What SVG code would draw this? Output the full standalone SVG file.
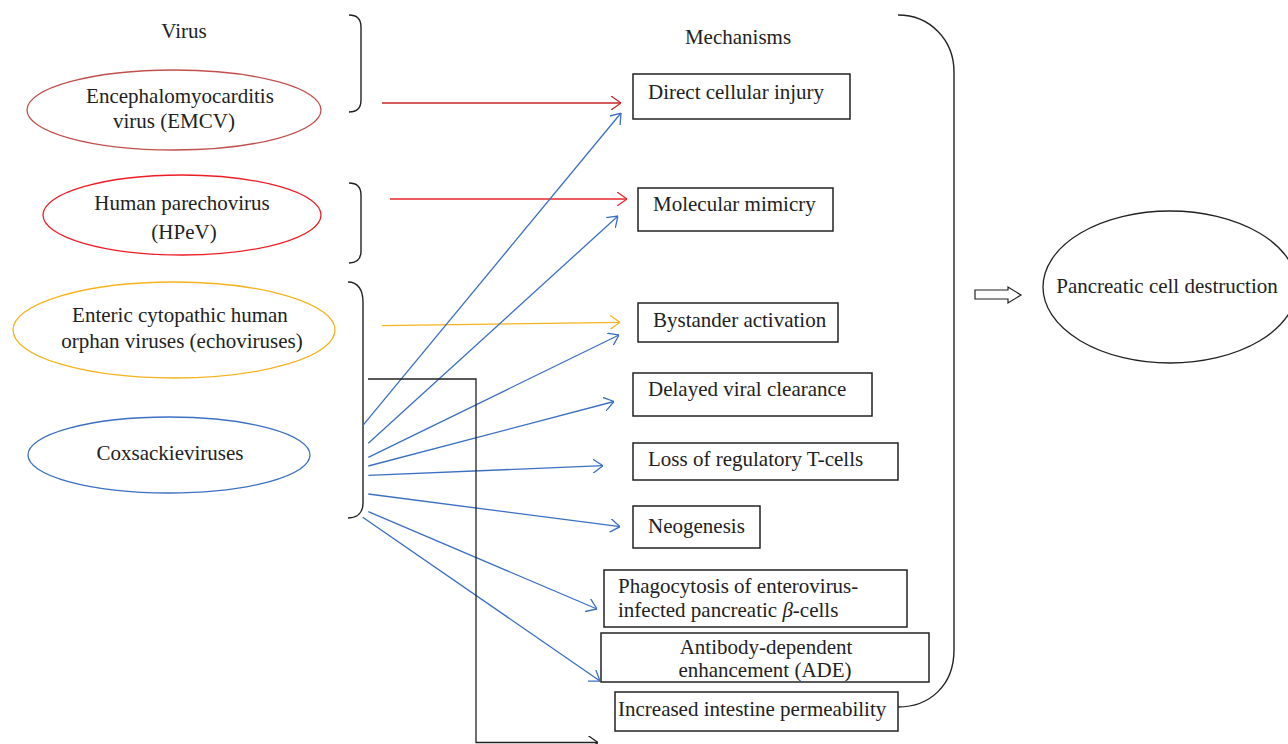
<svg xmlns="http://www.w3.org/2000/svg" width="1288" height="744" viewBox="0 0 1288 744">
<style>
text{font-family:"Liberation Serif","Times New Roman",serif;font-size:21px;fill:#222}
.box{fill:#fff;stroke:#222;stroke-width:1.5}
.brace{fill:none;stroke:#222;stroke-width:1.4}
.ell{fill:#fff;stroke-width:1.3}
.c{stroke-width:1.3;fill:none}
.mid{text-anchor:middle}
</style>
<defs>
<marker id="aBlue" markerUnits="userSpaceOnUse" viewBox="0 0 10 14" refX="10" refY="7" markerWidth="10" markerHeight="14" orient="auto"><path d="M0,0 L10,7 L0,14" fill="none" stroke="#3b6fc2" stroke-width="1.3"/></marker>
<marker id="aRed1" markerUnits="userSpaceOnUse" viewBox="0 0 10 14" refX="10" refY="7" markerWidth="10" markerHeight="14" orient="auto"><path d="M0,0 L10,7 L0,14" fill="none" stroke="#c62828" stroke-width="1.3"/></marker>
<marker id="aRed2" markerUnits="userSpaceOnUse" viewBox="0 0 10 14" refX="10" refY="7" markerWidth="10" markerHeight="14" orient="auto"><path d="M0,0 L10,7 L0,14" fill="none" stroke="#e8262b" stroke-width="1.3"/></marker>
<marker id="aOr" markerUnits="userSpaceOnUse" viewBox="0 0 10 14" refX="10" refY="7" markerWidth="10" markerHeight="14" orient="auto"><path d="M0,0 L10,7 L0,14" fill="none" stroke="#f5b31e" stroke-width="1.3"/></marker>
<marker id="aBlk" markerUnits="userSpaceOnUse" viewBox="0 0 10 14" refX="10" refY="7" markerWidth="10" markerHeight="14" orient="auto"><path d="M0,0 L10,7 L0,14" fill="none" stroke="#222" stroke-width="1.3"/></marker>
</defs>
<rect width="1288" height="744" fill="#fff"/>

<text x="184" y="38" class="mid">Virus</text>
<text x="738" y="44" class="mid">Mechanisms</text>

<g id="braces">
<path class="brace" d="M349,15 C357,15 361,19 361,27 L361,100 C361,108 357,112 349,112"/>
<path class="brace" d="M349,183 C357,183 361,187 361,195 L361,251 C361,259 357,263 349,263"/>
<path class="brace" d="M348,282 C358,282 363,290 363,302 L363,503 C363,512 358,518 348,518"/>
<path class="brace" d="M898,15 C930,15 954,40 954,72 L954,650 C954,685 930,707 898,707"/>
</g>

<g id="connectors">
<line class="c" x1="382" y1="103" x2="621" y2="103" stroke="#c62828" marker-end="url(#aRed1)"/>
<line class="c" x1="390" y1="199" x2="627" y2="199" stroke="#e8262b" marker-end="url(#aRed2)"/>
<line class="c" x1="382" y1="325.7" x2="620" y2="322.3" stroke="#f5b31e" marker-end="url(#aOr)"/>
<g stroke="#3b6fc2" class="c" marker-end="url(#aBlue)">
<line x1="362.7" y1="425.7" x2="621" y2="113"/>
<line x1="368.3" y1="443.3" x2="618" y2="216"/>
<line x1="368.3" y1="457.3" x2="619" y2="335"/>
<line x1="368.3" y1="466" x2="614" y2="401.5"/>
<line x1="368.3" y1="475.3" x2="603" y2="465.7"/>
<line x1="368.3" y1="494" x2="620" y2="526.7"/>
<line x1="368.3" y1="511.7" x2="597" y2="609"/>
<line x1="362.7" y1="517.3" x2="600" y2="681"/>
</g>
<polyline class="c" stroke="#222" points="368,379 476,379 476,742.5 598,742.5" marker-end="url(#aBlk)"/>
<polygon points="975,290 1008,290 1008,287 1021,295 1008,303 1008,299 975,299" fill="#fff" stroke="#222" stroke-width="1.2"/>
</g>

<g id="emcv">
<ellipse class="ell" cx="174" cy="110" rx="147" ry="40" stroke="#c0504d"/>
<text x="180" y="103" class="mid">Encephalomyocarditis</text>
<text x="174" y="128" class="mid">virus (EMCV)</text>
</g>
<g id="hpev">
<ellipse class="ell" cx="182" cy="215" rx="139" ry="40" stroke="#ee1c25"/>
<text x="182" y="210" class="mid">Human parechovirus</text>
<text x="184" y="239" class="mid">(HPeV)</text>
</g>
<g id="echo">
<ellipse class="ell" cx="174" cy="330" rx="161" ry="48" stroke="#f5b31e"/>
<text x="180" y="322" class="mid">Enteric cytopathic human</text>
<text x="182" y="348" class="mid">orphan viruses (echoviruses)</text>
</g>
<g id="coxsackie">
<ellipse class="ell" cx="169" cy="455" rx="141" ry="38" stroke="#3b6fc2"/>
<text x="170" y="460" class="mid">Coxsackieviruses</text>
</g>

<g id="direct">
<rect class="box" x="633" y="74" width="217" height="45"/>
<text x="648" y="99">Direct cellular injury</text>
</g>
<g id="mimicry">
<rect class="box" x="638" y="188" width="195" height="43"/>
<text x="653" y="211">Molecular mimicry</text>
</g>
<g id="bystander">
<rect class="box" x="638" y="303" width="200" height="39"/>
<text x="653" y="327">Bystander activation</text>
</g>
<g id="delayed">
<rect class="box" x="633" y="373" width="239" height="43"/>
<text x="648" y="396">Delayed viral clearance</text>
</g>
<g id="treg">
<rect class="box" x="633" y="443" width="265" height="37"/>
<text x="648" y="466">Loss of regulatory T-cells</text>
</g>
<g id="neogenesis">
<rect class="box" x="633" y="506" width="127" height="42"/>
<text x="648" y="533">Neogenesis</text>
</g>
<g id="phagocytosis">
<rect class="box" x="604" y="570" width="303" height="57"/>
<text x="618" y="593">Phagocytosis of enterovirus-</text>
<text x="618" y="617">infected pancreatic <tspan font-style="italic">β</tspan>-cells</text>
</g>
<g id="ade">
<rect class="box" x="601" y="633" width="328" height="49"/>
<text x="766" y="654" class="mid">Antibody-dependent</text>
<text x="765" y="677" class="mid">enhancement (ADE)</text>
</g>
<g id="permeability">
<rect class="box" x="615" y="692" width="283" height="39"/>
<text x="618" y="716">Increased intestine permeability</text>
</g>

<g id="destruction">
<ellipse cx="1170" cy="287" rx="127" ry="76" fill="#fff" stroke="#222" stroke-width="1.3"/>
<text x="1167" y="293" class="mid">Pancreatic cell destruction</text>
</g>
</svg>
